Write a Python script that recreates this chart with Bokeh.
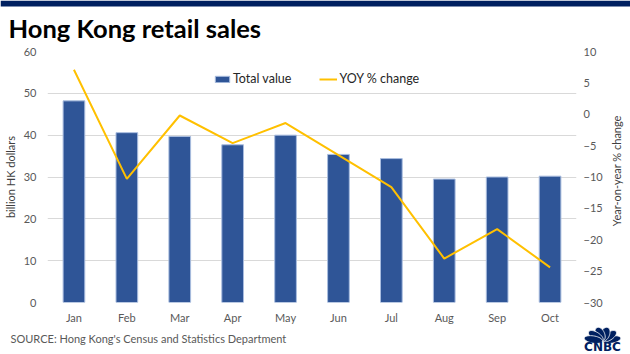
import numpy as np
from bokeh.plotting import figure
from bokeh.layouts import column, row
from bokeh.models import (Range1d, LinearAxis, FactorRange, Legend, LegendItem,
                          FixedTicker)
from bokeh.core.properties import value
from bokeh.embed import file_html
from bokeh.resources import INLINE

# ---- data ----
months = ["Jan", "Feb", "Mar", "Apr", "May", "Jun", "Jul", "Aug", "Sep", "Oct"]
total_value = [48.2, 40.6, 39.7, 37.7, 40.0, 35.4, 34.4, 29.5, 30.0, 30.2]
yoy_change = [7.1, -10.3, -0.2, -4.6, -1.4, -6.5, -11.6, -23.0, -18.3, -24.4]
left_ticks = [0, 10, 20, 30, 40, 50, 60]
right_ticks = [-30, -25, -20, -15, -10, -5, 0, 5, 10]
title_text = "Hong Kong retail sales"
source_text = "SOURCE: Hong Kong's Census and Statistics Department"
left_label = "billion HK dollars"
right_label = "Year-on-year % change"

FONT = "Lato"
GRAY = "#595959"
BAR = "#2f5597"
GOLD = "#ffc000"
NAVY = "#002060"

W = 630
HEAD_H = 42
MAIN_BOTTOM = 326
MAIN_H = MAIN_BOTTOM - HEAD_H
FOOT_H = 354 - MAIN_BOTTOM
RLAB_W = 25


def blank(width, height, x0, x1, y_top, y_bottom):
    f = figure(width=width, height=height, x_range=Range1d(x0, x1),
               y_range=Range1d(y_bottom, y_top), x_axis_type=None,
               y_axis_type=None, output_backend="svg", toolbar_location=None,
               min_border_left=0, min_border_right=0, min_border_top=0,
               min_border_bottom=0)
    f.outline_line_color = None
    f.grid.visible = False
    f.background_fill_color = "white"
    f.border_fill_color = "white"
    return f


# ---- header: navy strip + title ----
head = blank(W, HEAD_H, 0, W, 0, HEAD_H)
head.quad(left=[0], right=[W], top=[0], bottom=[6], fill_color=NAVY,
          line_color=None)
head.text(x=[8], y=[27], text=[title_text], text_font=value(FONT),
          text_font_style="bold", text_font_size="25.5px", text_color="black",
          text_baseline="middle", text_align="left")

# ---- main chart ----
p = figure(width=W - RLAB_W, height=MAIN_H, x_range=FactorRange(*months),
           y_range=Range1d(left_ticks[0], left_ticks[-1]),
           output_backend="svg", toolbar_location=None,
           min_border_left=45, min_border_right=W - RLAB_W - 578,
           min_border_top=51 - HEAD_H, min_border_bottom=MAIN_BOTTOM - 303)
p.outline_line_color = None
p.background_fill_color = "white"
p.border_fill_color = "white"
p.extra_y_ranges = {"yoy": Range1d(right_ticks[0], right_ticks[-1])}

bars = p.vbar(x=months, top=total_value, width=0.41, fill_color=BAR,
              line_color="#a9bddf", line_width=1)
line = p.line(x=months, y=yoy_change, y_range_name="yoy", line_color=GOLD,
              line_width=2)


def style_axis(ax):
    ax.axis_line_color = None
    ax.major_tick_line_color = None
    ax.minor_tick_line_color = None
    ax.major_tick_out = 0
    ax.major_tick_in = 0
    ax.minor_tick_out = 0
    ax.major_label_text_font = FONT
    ax.major_label_text_font_size = "11px"
    ax.major_label_text_color = GRAY
    ax.axis_label_text_font = FONT
    ax.axis_label_text_font_size = "11px"
    ax.axis_label_text_font_style = "normal"
    ax.axis_label_text_color = "#404040"


yax = p.yaxis[0]
yax.ticker = FixedTicker(ticks=left_ticks)
style_axis(yax)
yax.major_label_standoff = 11
yax.axis_label = left_label
yax.axis_label_standoff = 4

xax = p.xaxis[0]
style_axis(xax)
xax.major_label_standoff = 8

rax = LinearAxis(y_range_name="yoy", ticker=FixedTicker(ticks=right_ticks))
style_axis(rax)
rax.major_label_standoff = 7
p.add_layout(rax, "right")

p.xgrid.grid_line_color = None
p.ygrid.grid_line_color = "#d9d9d9"
p.ygrid.grid_line_width = 1

legend = Legend(items=[LegendItem(label="Total value", renderers=[bars]),
                       LegendItem(label="YOY % change", renderers=[line])],
                orientation="horizontal", location=(166, 216),
                border_line_color=None, background_fill_alpha=0,
                glyph_width=18, glyph_height=8, label_standoff=2, spacing=28,
                padding=4, margin=0,
                label_text_font=FONT, label_text_font_size="12.5px",
                label_text_color="#262626")
p.add_layout(legend, "center")

# ---- right-hand axis title (reads bottom to top) ----
rlab = blank(RLAB_W, MAIN_H, W - RLAB_W, W, HEAD_H, MAIN_BOTTOM)
rlab.text(x=[615.5], y=[177], text=[right_label], angle=np.pi / 2,
          text_font=value(FONT), text_font_size="11px", text_color="#404040",
          text_align="center", text_baseline="middle")

# ---- footer: source text + CNBC logo ----
src = blank(570, FOOT_H, 0, 570, MAIN_BOTTOM, 354)
src.text(x=[10], y=[338], text=[source_text], text_font=value(FONT),
         text_font_size="11px", text_color=GRAY, text_baseline="middle",
         text_align="left")

logo = blank(W - 570, FOOT_H, 570, W, MAIN_BOTTOM, 354)
cx, cy = 602, 340.8
fx, fy = [], []
for ang in np.deg2rad([14, 45, 75, 105, 135, 166]):
    t = np.linspace(0, 2 * np.pi, 40)
    a, b, r = 7.2, 3.6, 7.2
    ex = a * np.cos(t)
    ey = b * np.sin(t)
    dx = r * np.cos(ang) + ex * np.cos(ang) - ey * np.sin(ang)
    dy = r * np.sin(ang) + ex * np.sin(ang) + ey * np.cos(ang)
    fx.append(list(cx + 1.3 * dx))
    fy.append(list(cy - dy))
logo.patches(xs=fx, ys=fy, fill_color=NAVY, line_color="white", line_width=0.8)
logo.text(x=[cx], y=[346.6], text=["CNBC"], text_font=value("DejaVu Sans"),
          text_font_style="bold", text_font_size="12px", text_color=NAVY,
          text_baseline="middle", text_align="center")

layout = column(row(head, spacing=0), row(p, rlab, spacing=0),
                row(src, logo, spacing=0), spacing=0)
open("out.html", "w").write(file_html(layout, INLINE))
